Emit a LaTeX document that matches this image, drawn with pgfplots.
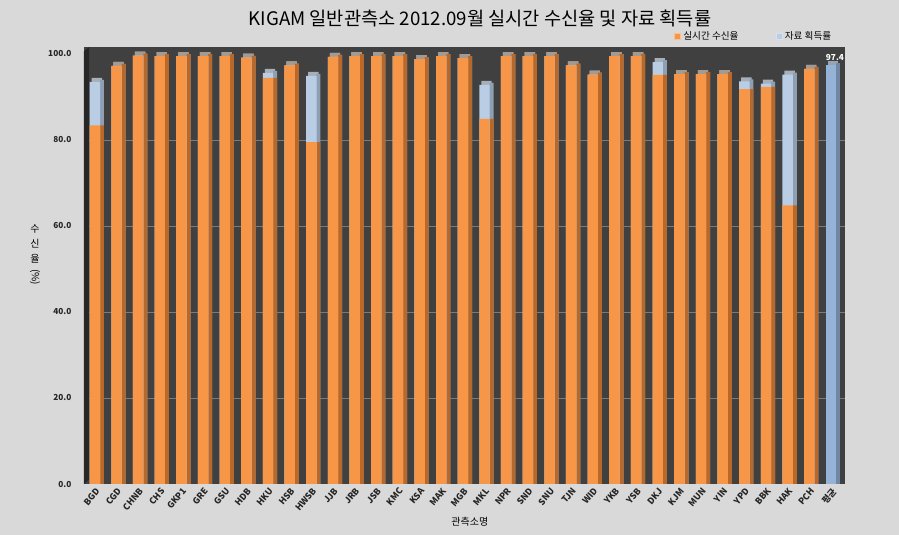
\documentclass[border=0pt]{standalone}
\usepackage{fontspec}
\setmainfont{Noto Sans CJK KR}
\usepackage{pgfplots}
\usepackage{pgfplotstable}
\pgfplotsset{compat=1.18}

\definecolor{bggray}{HTML}{D9D9D9}
\definecolor{wall}{HTML}{404040}
\definecolor{leftwall}{HTML}{262626}
\definecolor{gridgray}{HTML}{7A7A7A}
\definecolor{orangefront}{HTML}{F79646}
\definecolor{orangeside}{HTML}{B8692A}
\definecolor{orangetop}{HTML}{A39A92}
\definecolor{bluefront}{HTML}{B9CDE5}
\definecolor{blueside}{HTML}{8E9EB3}
\definecolor{bluetop}{HTML}{A7AFB9}
\definecolor{avgfront}{HTML}{95B3D7}
\definecolor{avgside}{HTML}{6F88A6}
\definecolor{avgtop}{HTML}{9AA5B3}

% x  o = 실시간 수신율, b = 자료 획득률
\pgfplotstableread{
x o b
0 83.4 93.5
1 97.2 97.2
2 99.6 99.6
3 99.5 99.5
4 99.5 99.5
5 99.5 99.5
6 99.5 99.5
7 99.1 99.1
8 94.4 95.6
9 97.3 97.3
10 79.5 94.9
11 99.3 99.3
12 99.5 99.5
13 99.5 99.5
14 99.5 99.5
15 98.8 98.8
16 99.5 99.5
17 99.0 99.0
18 84.9 92.8
19 99.5 99.5
20 99.5 99.5
21 99.5 99.5
22 97.3 97.3
23 95.2 95.2
24 99.5 99.5
25 99.5 99.5
26 95.1 98.1
27 95.3 95.3
28 95.3 95.3
29 95.3 95.3
30 91.8 93.6
31 92.3 93.1
32 64.8 95.2
33 96.5 96.5
34 0 97.4
}\rates

\pgfplotsset{
  front/.style={ybar, bar width=0.48, bar shift=0, draw=none, forget plot},
  side/.style={ybar, bar width=0.185, bar shift=0.33, draw=none, forget plot},
  topf/.style={ybar, bar width=0.48, bar shift=0.092, draw=none, forget plot},
}

\begin{document}
\begin{tikzpicture}
\fill[bggray] (-63pt,-38.25pt) rectangle (611.25pt,363pt);
\begin{axis}[
    scale only axis,
    width=570.75pt, height=327.75pt,
    xmin=-0.5, xmax=34.65,
    ymin=0, ymax=101.6,
    axis background/.style={fill=wall},
    axis line style={draw=none},
    major tick length=0pt,
    xtick={0,...,34},
    xticklabels={BGD,CGD,CHNB,CHS,GKP1,GRE,GSU,HDB,HKU,HSB,HWSB,JJB,JRB,JSB,KMC,KSA,MAK,MGB,MKL,NPR,SND,SNU,TJN,WID,YKB,YSB,DKJ,KJM,MUN,YIN,YPD,BBK,HAK,PCH,평균},
    xticklabel style={rotate=50, anchor=north east, inner sep=1.5pt, font=\bfseries\fontsize{6.6}{7}\selectfont, text=black!85},
    ytick={0,20,...,100},
    yticklabel style={font=\bfseries\fontsize{6.2}{7}\selectfont, xshift=-6pt, text=black!85},
    /pgf/number format/assume math mode=true,
    yticklabel={\pgfmathprintnumber[fixed,fixed zerofill,precision=1]{\tick}},
    extra y ticks={20,40,60,80},
    extra y tick labels={},
    extra y tick style={grid=major},
    grid style={gridgray, line width=0.5pt},
    xlabel={관측소명},
    xlabel style={at={(axis description cs:0.507,0)}, anchor=center, yshift=-28.5pt, font=\fontsize{7.5}{9}\selectfont},
    ylabel={\shortstack{수\\[1.5pt]신\\[1.5pt]율\\[1.5pt]\rotatebox{-90}{(\%)}}},
    ylabel style={rotate=-90, at={(axis description cs:-0.0644,0.524)}, anchor=center, font=\fontsize{7.5}{8.5}\selectfont},
    legend style={at={(axis description cs:0.991,1)}, anchor=south east, draw=none, fill=none,
      font=\fontsize{7.2}{8}\selectfont, legend columns=2,
      /tikz/every even column/.append style={column sep=26pt}},
    legend image code/.code={\draw[#1] (0pt,-2.2pt) rectangle (4.4pt,2.2pt);},
    unbounded coords=discard,
    clip=false,
]
\fill[leftwall] (axis cs:-0.5,0) -- (axis cs:-0.5,100.6) -- (axis cs:-0.26,101.6) -- (axis cs:-0.26,1.2) -- cycle;

% top faces
\addplot[topf, fill=bluetop, restrict x to domain=0:33] table[x=x, y expr=\thisrow{b}+0.93]{\rates};
\addplot[topf, fill=avgtop, restrict x to domain=34:34] table[x=x, y expr=\thisrow{b}+0.93]{\rates};
% side faces
\addplot[side, fill=blueside, restrict x to domain=0:33] table[x=x, y expr=\thisrow{b}+0.45]{\rates};
\addplot[side, fill=avgside, restrict x to domain=34:34] table[x=x, y expr=\thisrow{b}+0.45]{\rates};
\addplot[topf, fill=orangetop] table[x=x, y expr={\thisrow{b}-\thisrow{o}<0.05 ? \thisrow{o}+0.93 : nan}]{\rates};
\addplot[side, fill=orangeside] table[x=x, y expr={\thisrow{b}-\thisrow{o}<0.05 ? \thisrow{o}+0.45 : \thisrow{o}}]{\rates};
% front faces
\addplot[front, fill=bluefront, restrict x to domain=0:33] table[x=x, y=b]{\rates};
\addplot[front, fill=avgfront, restrict x to domain=34:34,
  nodes near coords, point meta=explicit symbolic,
  every node near coord/.append style={font=\bfseries\fontsize{6.2}{7}\selectfont, text=white, xshift=3pt, yshift=0pt}]
  table[x=x, y=b, meta=b]{\rates};
\addplot[front, fill=orangefront] table[x=x, y=o]{\rates};

\addlegendimage{fill=orangefront, draw=orangefront!60!white}
\addlegendimage{fill=bluefront, draw=bluefront!60!white}
\legend{실시간 수신율, 자료 획득률}
\end{axis}
\node[font=\fontsize{14}{15}\selectfont] at (297pt,349.5pt) {KIGAM 일반관측소 2012.09월 실시간 수신율 및 자료 획득률};
\pgfresetboundingbox
\useasboundingbox (-63pt,-38.25pt) rectangle (611.25pt,363pt);
\end{tikzpicture}
\end{document}
